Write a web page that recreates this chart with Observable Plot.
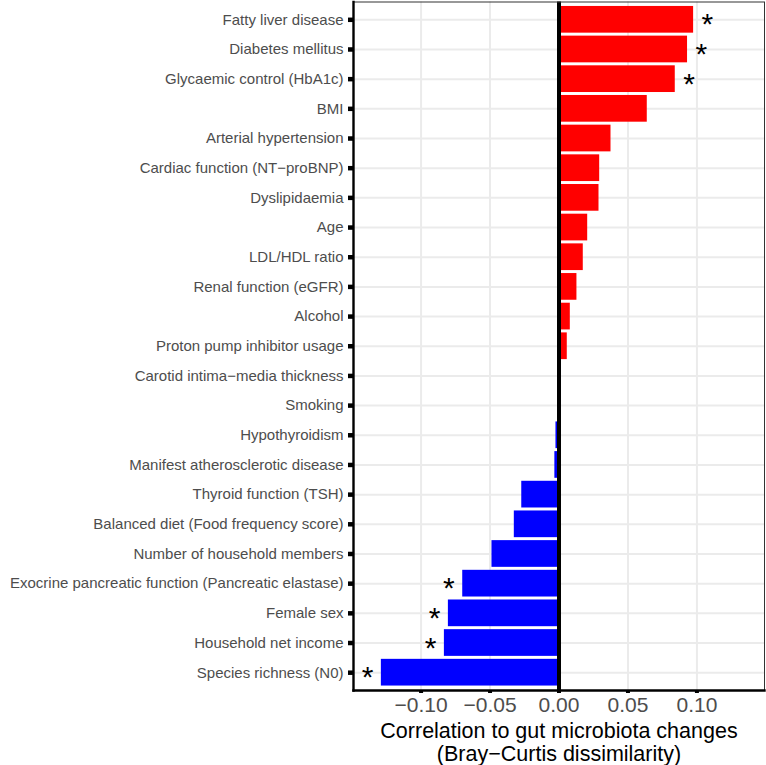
<!DOCTYPE html>
<html>
<head>
<meta charset="utf-8">
<script src="https://cdn.jsdelivr.net/npm/d3@7"></script>
<script src="https://cdn.jsdelivr.net/npm/@observablehq/plot@0.6"></script>
<style>
  html, body { margin: 0; padding: 0; background: #fff; }
  #chart { width: 766px; height: 765px; }
  svg { font-family: "Liberation Sans", Arial, sans-serif; }
</style>
</head>
<body>
<div id="chart"></div>
<script>
const factors = [
  "Fatty liver disease",
  "Diabetes mellitus",
  "Glycaemic control (HbA1c)",
  "BMI",
  "Arterial hypertension",
  "Cardiac function (NT\u2212proBNP)",
  "Dyslipidaemia",
  "Age",
  "LDL/HDL ratio",
  "Renal function (eGFR)",
  "Alcohol",
  "Proton pump inhibitor usage",
  "Carotid intima\u2212media thickness",
  "Smoking",
  "Hypothyroidism",
  "Manifest atherosclerotic disease",
  "Thyroid function (TSH)",
  "Balanced diet (Food frequency score)",
  "Number of household members",
  "Exocrine pancreatic function (Pancreatic elastase)",
  "Female sex",
  "Household net income",
  "Species richness (N0)"
];
const correlations = [
  0.0976, 0.0932, 0.0843, 0.0640, 0.0377, 0.0295, 0.0290, 0.0208,
  0.0176, 0.0130, 0.0082, 0.0060, 0.0010, -0.0010, -0.0022, -0.0030,
  -0.0270, -0.0324, -0.0486, -0.0698, -0.0802, -0.0831, -0.1288
];
const significant = [
  true, true, true, false, false, false, false, false,
  false, false, false, false, false, false, false, false,
  false, false, false, true, true, true, true
];
const xTicks = [-0.10, -0.05, 0.00, 0.05, 0.10];
const xTitle = ["Correlation to gut microbiota changes", "(Bray\u2212Curtis dissimilarity)"];

const rows = factors.map((f, i) => ({factor: f, value: correlations[i], sig: significant[i]}));
const sigRows = rows.filter(d => d.sig);
const fmt = d => (d < 0 ? "\u2212" : "") + Math.abs(d).toFixed(2);

const chart = Plot.plot({
  width: 766,
  height: 765,
  marginLeft: 353,
  marginRight: 2,
  marginTop: 1.5,
  marginBottom: 75,
  style: {fontFamily: "Liberation Sans, Arial, sans-serif", background: "#fff"},
  x: {domain: [-0.149, 0.149]},
  y: {domain: factors, paddingInner: 0.1, paddingOuter: 0.15, round: false},
  marks: [
    Plot.gridX({ticks: xTicks, stroke: "#EBEBEB", strokeOpacity: 1, strokeWidth: 2}),
    Plot.gridY({stroke: "#EBEBEB", strokeOpacity: 1, strokeWidth: 2}),
    Plot.barX(rows, {x: "value", y: "factor", fill: d => d.value >= 0 ? "#FF0000" : "#0000FF"}),
    Plot.ruleX([0], {stroke: "black", strokeWidth: 4}),
    Plot.text(sigRows, {
      x: d => d.value + (d.value >= 0 ? 0.01 : -0.01),
      y: "factor",
      text: () => "*",
      fontSize: 30,
      dy: 5,
      fill: "black"
    }),
    Plot.frame({stroke: "#333333", strokeWidth: 1}),
    Plot.frame({anchor: "left", stroke: "black", strokeWidth: 2.4}),
    Plot.frame({anchor: "bottom", stroke: "black", strokeWidth: 2.4}),
    Plot.axisY({
      tickSize: 5, tickPadding: 5, strokeWidth: 4.5, stroke: "black",
      fill: "#4D4D4D", fontSize: 15, label: null
    }),
    Plot.axisX({
      ticks: xTicks, tickFormat: fmt, tickSize: 3, tickPadding: 4,
      strokeWidth: 4, stroke: "black", fill: "#4D4D4D", fontSize: 21, label: null
    }),
    Plot.text([xTitle.join("\n")], {
      text: d => d,
      frameAnchor: "bottom",
      lineAnchor: "top",
      dy: 31,
      fontSize: 21.5,
      lineHeight: 1.08,
      fill: "black"
    })
  ]
});
document.getElementById("chart").appendChild(chart);
</script>
</body>
</html>
